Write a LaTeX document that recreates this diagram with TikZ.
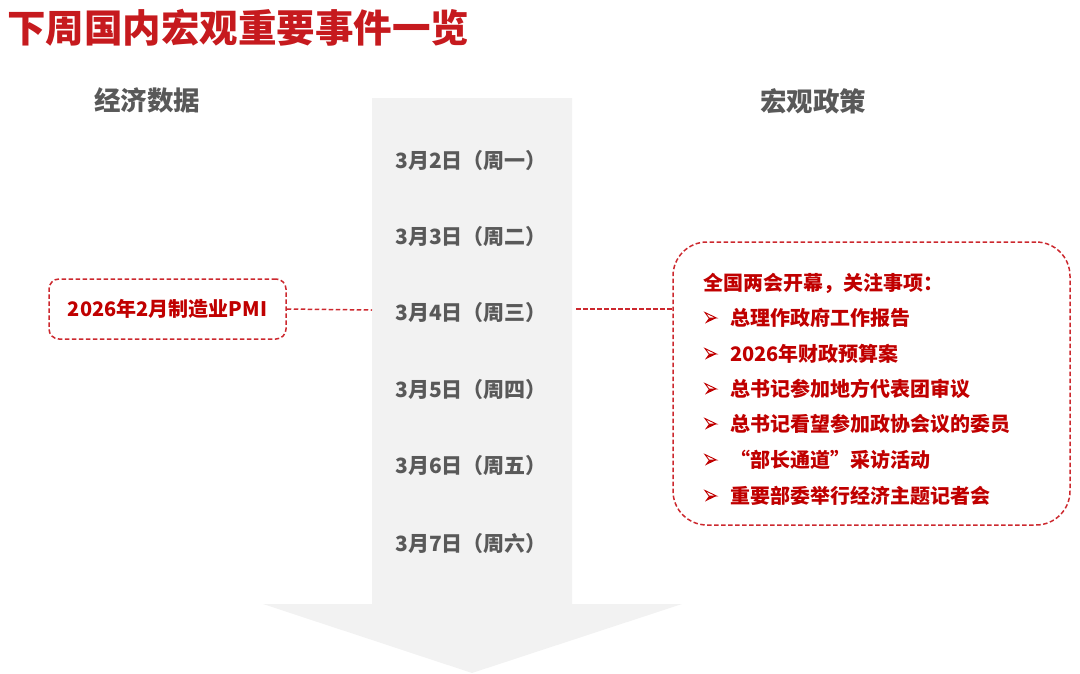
\documentclass[tikz,border=0pt]{standalone}
\usepackage{fontspec}
\setmainfont{Noto Sans CJK SC}
\definecolor{tred}{RGB}{198,26,30}
\definecolor{bred}{RGB}{192,0,0}
\definecolor{lred}{RGB}{204,40,46}
\definecolor{dgray}{RGB}{89,89,89}
\definecolor{afill}{RGB}{242,242,242}
\tikzset{
  datelbl/.style={font=\fontsize{21}{22}\selectfont\bfseries, text=dgray, inner sep=0pt},
  headlbl/.style={font=\fontsize{26.5}{28}\selectfont\bfseries, text=dgray, inner sep=0pt},
  itemlbl/.style={font=\fontsize{20}{22}\selectfont\bfseries, text=bred, inner sep=0pt, anchor=west},
  dashline/.style={draw=lred, line width=1.5pt, dash pattern=on 4.5pt off 2.5pt},
  bulletmark/.pic={
    \draw[bred, line width=0.9pt, line join=miter] (0,-5.5) -- (11.5,0) -- (4,0) -- cycle;
    \fill[bred] (4,0) -- (11.5,0) -- (0,5.5) -- cycle;
  },
}
\begin{document}
\begin{tikzpicture}[x=1pt,y=-1pt]
\useasboundingbox (0,0) rectangle (1080,673);
% arrow
\fill[afill] (372,98) -- (572,98) -- (572,604) -- (682,604) -- (472,673) -- (263,604) -- (372,604) -- cycle;
\coordinate (shaftL) at (372,310);
\coordinate (shaftR) at (576,309);
% title
\node[anchor=west, inner sep=0pt, font=\fontsize{38.5}{40}\selectfont\bfseries, text=tred] (title) at (7,28) {下周国内宏观重要事件一览};
% headings
\node[headlbl] (hl) at (147,100) {经济数据};
\node[headlbl] (hr) at (813,101) {宏观政策};
% dates
\node[datelbl] (d2) at (471,161) {3月2日（周一）};
\node[datelbl] (d3) at (471,237) {3月3日（周二）};
\node[datelbl] (d4) at (471,313) {3月4日（周三）};
\node[datelbl] (d5) at (471,390) {3月5日（周四）};
\node[datelbl] (d6) at (471,466) {3月6日（周五）};
\node[datelbl] (d7) at (471,544) {3月7日（周六）};
% left box
\node[dashline, rounded corners=10pt, minimum width=237pt, minimum height=60pt, inner sep=0pt,
      font=\fontsize{20}{22}\selectfont\bfseries, text=bred] (lb) at (167.5,309) {2026年2月制造业PMI};
\draw[dashline] (lb.east) -- (shaftL);
% right box
\node[dashline, rounded corners=34pt, minimum width=397pt, minimum height=283pt, inner sep=0pt] (rb) at (871.5,383.5) {};
\draw[dashline] (shaftR) -- (shaftR -| rb.west);
\node[itemlbl] (r0) at (703,283) {全国两会开幕，关注事项：};
\foreach \y in {318,354,389,424,460,496}{
  \pic at (705,\y) {bulletmark};
}
\node[itemlbl] (r1) at (730,318) {总理作政府工作报告};
\node[itemlbl] (r2) at (730,354) {2026年财政预算案};
\node[itemlbl] (r3) at (730,389) {总书记参加地方代表团审议};
\node[itemlbl] (r4) at (730,424) {总书记看望参加政协会议的委员};
\node[itemlbl] (r5) at (730,460) {\makebox[1em][r]{“}部长通道\makebox[1em][l]{”}采访活动};
\node[itemlbl] (r6) at (730,496) {重要部委举行经济主题记者会};
\end{tikzpicture}
\end{document}
